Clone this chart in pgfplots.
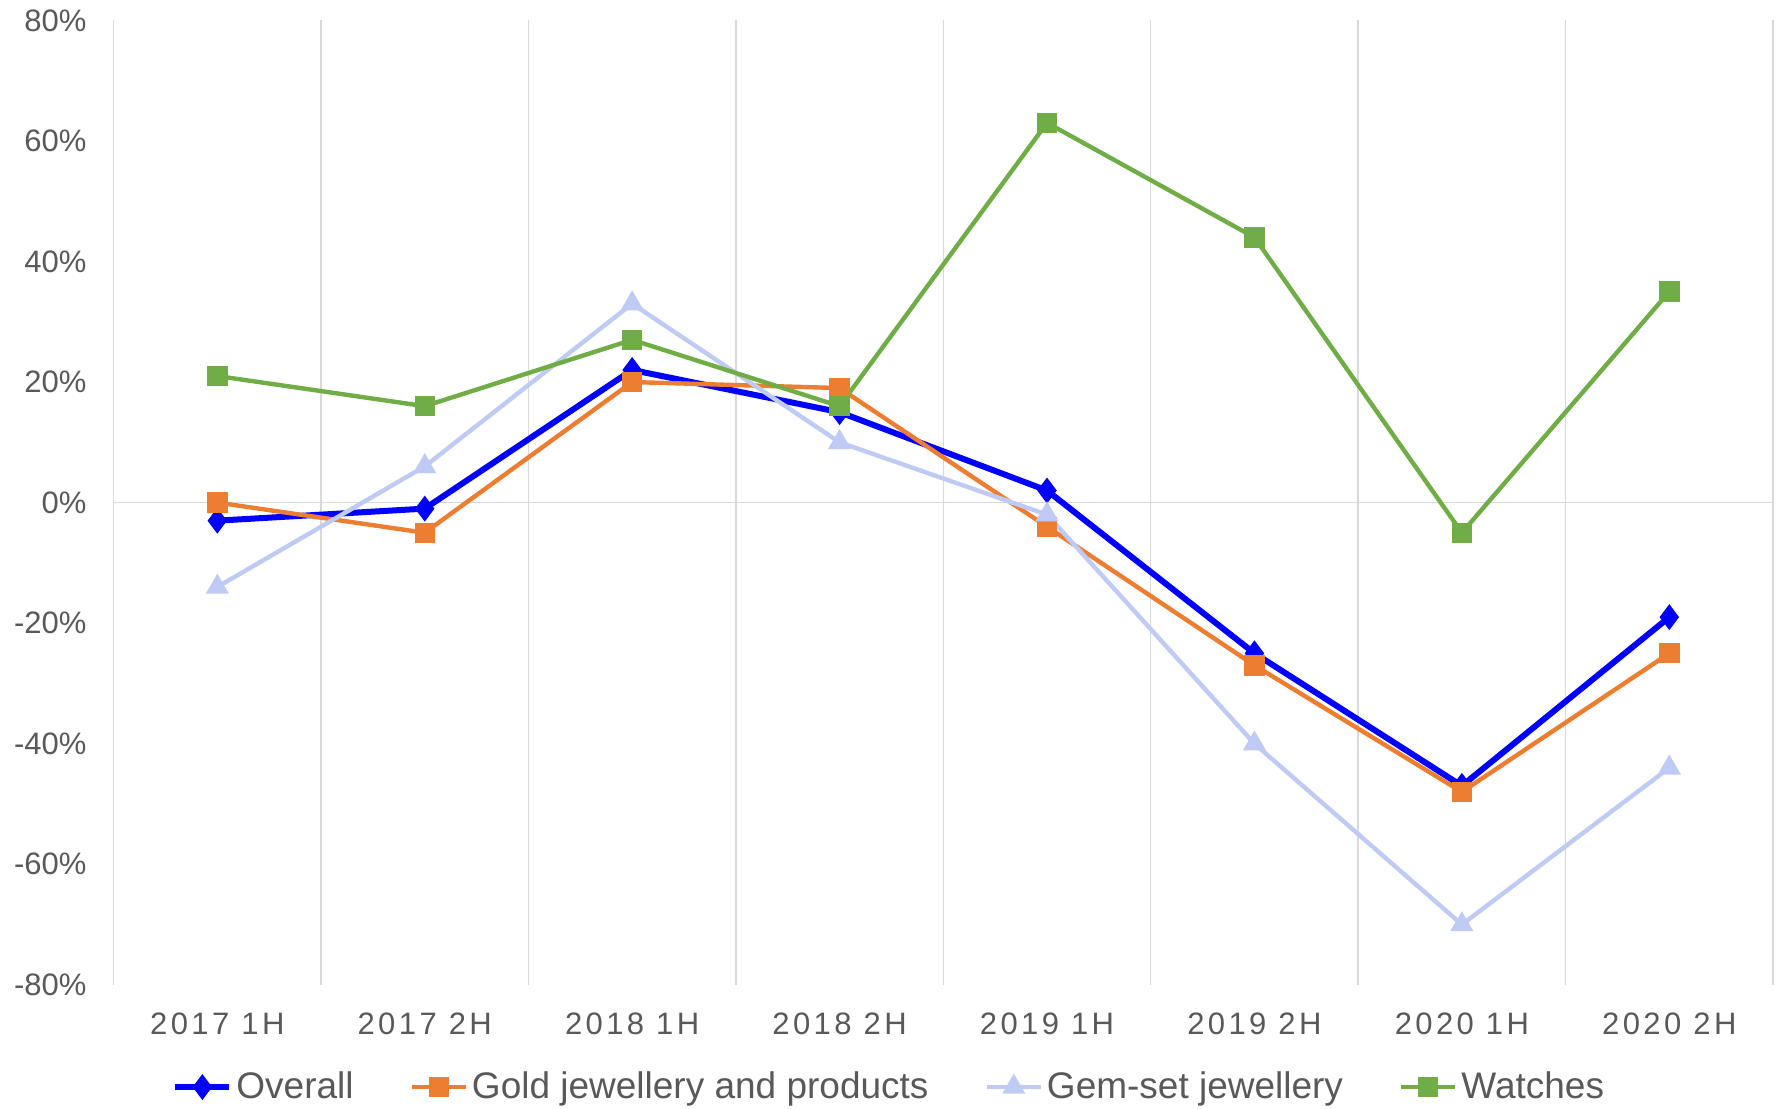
\documentclass[border=0pt]{standalone}
\usepackage{fontspec}
\setmainfont{Liberation Sans}
\newfontfamily\spaced[LetterSpace=11]{Liberation Sans}
\usepackage{pgfplots}
\pgfplotsset{compat=1.18}

\definecolor{cOverall}{HTML}{0000FF}
\definecolor{cGold}{HTML}{ED7D31}
\definecolor{cGem}{HTML}{C0CBF5}
\definecolor{cWatch}{HTML}{70AD47}
\definecolor{cGrid}{HTML}{D9D9D9}
\definecolor{cText}{HTML}{595959}

\begin{document}
\begin{tikzpicture}
\begin{axis}[
  scale only axis,
  width=829.7pt, height=482.2pt,
  xmin=-0.5, xmax=7.5,
  ymin=-80, ymax=80,
  xtick={0,...,7},
  xticklabels={2017 1H,2017 2H,2018 1H,2018 2H,2019 1H,2019 2H,2020 1H,2020 2H},
  minor xtick={-0.5,0.5,...,7.5},
  xminorgrids,
  minor grid style={cGrid, line width=0.75pt},
  ytick={-80,-60,...,80},
  yticklabel={\pgfmathprintnumber{\tick}\%},
  /pgf/number format/assume math mode=true,
  extra y ticks={0},
  extra y tick labels={},
  extra y tick style={grid=major, major grid style={cGrid, line width=0.75pt}},
  axis line style={draw=none},
  tick style={draw=none},
  ticklabel style={text=cText},
  yticklabel style={font=\fontsize{15.5}{18}\selectfont, xshift=-10pt},
  xticklabel style={font=\spaced\fontsize{15.5}{18}\selectfont, yshift=-10.5pt},
  legend columns=4,
  legend style={draw=none, fill=none, font=\fontsize{18.5}{21}\selectfont,
    text=cText, at={(0.468,-0.106)}, anchor=center,
    /tikz/every even column/.append style={column sep=26pt}},
  legend image code/.code={%
    \draw[mark repeat=2, mark phase=2] plot coordinates {(0pt,0pt) (13.5pt,0pt) (27pt,0pt)};},
  clip=false,
]
\addplot[cOverall, line width=3pt, mark=diamond*, mark size=4pt, mark options={solid}]
  coordinates {(0,-3) (1,-1) (2,22) (3,15) (4,2) (5,-25) (6,-47) (7,-19)};
\addlegendentry{Overall}
\addplot[cGold, line width=2.2pt, mark=square*, mark size=4pt]
  coordinates {(0,0) (1,-5) (2,20) (3,19) (4,-4) (5,-27) (6,-48) (7,-25)};
\addlegendentry{Gold jewellery and products}
\addplot[cGem, line width=2.2pt, mark=triangle*, mark size=4.5pt]
  coordinates {(0,-14) (1,6) (2,33) (3,10) (4,-2) (5,-40) (6,-70) (7,-44)};
\addlegendentry{Gem-set jewellery}
\addplot[cWatch, line width=2.2pt, mark=square*, mark size=4pt]
  coordinates {(0,21) (1,16) (2,27) (3,16) (4,63) (5,44) (6,-5) (7,35)};
\addlegendentry{Watches}
\coordinate (A) at (rel axis cs:0,0);
\coordinate (B) at (rel axis cs:1,1);
\end{axis}
\pgfresetboundingbox
\path[use as bounding box] ([shift={(-56.8pt,-61.65pt)}]A) rectangle ([shift={(4pt,10.2pt)}]B);
\end{tikzpicture}
\end{document}
